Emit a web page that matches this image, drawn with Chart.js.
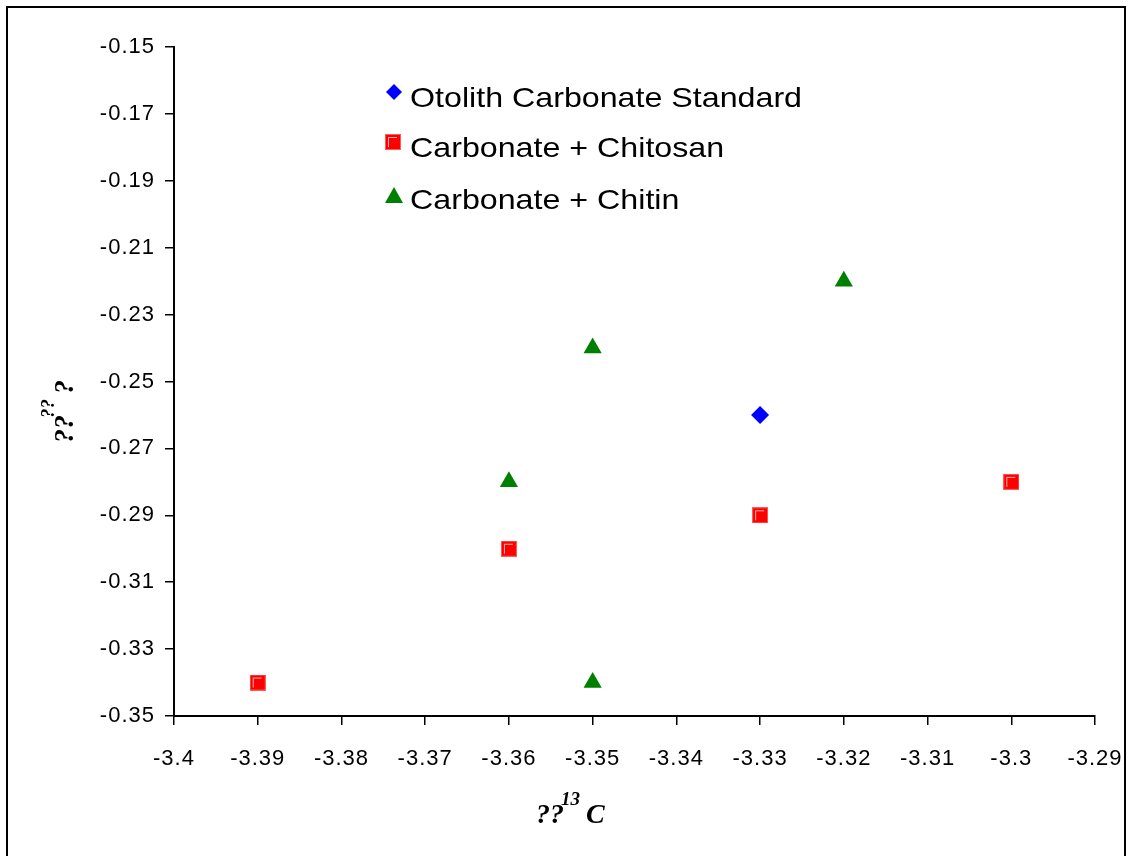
<!DOCTYPE html>
<html>
<head>
<meta charset="utf-8">
<script src="https://cdn.jsdelivr.net/npm/chart.js@4/dist/chart.umd.min.js"></script>
<style>
html,body{margin:0;padding:0;background:#fff;}
canvas{display:block;}
</style>
</head>
<body>
<canvas id="c" width="1128" height="856"></canvas>
<script>
// ---- data ----
const seriesNames = ['Otolith Carbonate Standard', 'Carbonate + Chitosan', 'Carbonate + Chitin'];
const otolithX = [-3.33];
const otolithY = [-0.26];
const chitosanX = [-3.39, -3.36, -3.33, -3.30];
const chitosanY = [-0.34, -0.30, -0.29, -0.28];
const chitinX = [-3.36, -3.35, -3.35, -3.32];
const chitinY = [-0.28, -0.24, -0.34, -0.22];
const xTickValues = [-3.4, -3.39, -3.38, -3.37, -3.36, -3.35, -3.34, -3.33, -3.32, -3.31, -3.3, -3.29];
const xTickLabels = ['-3.4', '-3.39', '-3.38', '-3.37', '-3.36', '-3.35', '-3.34', '-3.33', '-3.32', '-3.31', '-3.3', '-3.29'];
const yTickValues = [-0.35, -0.33, -0.31, -0.29, -0.27, -0.25, -0.23, -0.21, -0.19, -0.17, -0.15];
const yTickLabels = ['-0.35', '-0.33', '-0.31', '-0.29', '-0.27', '-0.25', '-0.23', '-0.21', '-0.19', '-0.17', '-0.15'];
const xTitle = ['??', '13', 'C'];
const yTitle = ['??', '??', '?'];

const pts = (xs, ys) => xs.map((x, i) => ({x: x, y: ys[i]}));

// custom square marker with highlight
function makeSquare(size) {
  const c = document.createElement('canvas');
  c.width = size; c.height = size;
  const g = c.getContext('2d');
  g.fillStyle = '#ff5a5a';
  g.fillRect(0, 0, size, size);
  g.fillStyle = '#ff0000';
  g.fillRect(1, 1, size - 2, size - 2);
  g.fillStyle = '#ffb0b0';
  g.fillRect(3, 3, 1, size - 6);
  g.fillRect(3, 3, size - 7, 1);
  return c;
}
const squareImg = makeSquare(16);

const FONT = "'Liberation Sans', Arial, sans-serif";
const SERIF = "'Liberation Serif', 'Times New Roman', serif";

const spacing = {
  id: 'spacing',
  beforeUpdate(chart) { chart.ctx.letterSpacing = '1px'; },
  beforeLayout(chart) { chart.ctx.letterSpacing = '1px'; },
  beforeDraw(chart) { chart.ctx.letterSpacing = '1px'; }
};

const decor = {
  id: 'decor',
  afterDraw(chart) {
    const ctx = chart.ctx;
    ctx.save();
    ctx.letterSpacing = '0px';
    // outer border
    ctx.strokeStyle = '#000';
    ctx.lineWidth = 2;
    ctx.strokeRect(7, 7, 1118, 860);

    // legend
    const lx = 394, ty = [99, 149, 201];
    ctx.fillStyle = '#000';
    ctx.font = '28px ' + FONT;
    ctx.textBaseline = 'middle';
    seriesNames.forEach((n, i) => {
      ctx.save();
      ctx.translate(410, ty[i]);
      ctx.scale(1.15, 1);
      ctx.fillStyle = '#000';
      ctx.fillText(n, 0, 0);
      ctx.restore();
    });
    // markers
    const ds = chart.data.datasets;
    ctx.fillStyle = ds[0].backgroundColor;
    ctx.beginPath();
    ctx.moveTo(lx, 92 - 8); ctx.lineTo(lx + 8, 92); ctx.lineTo(lx, 92 + 8); ctx.lineTo(lx - 8, 92); ctx.closePath();
    ctx.fill();
    ctx.drawImage(squareImg, lx - 9, 142 - 8, 16, 16);
    ctx.fillStyle = ds[2].backgroundColor;
    ctx.beginPath();
    ctx.moveTo(lx, 187); ctx.lineTo(lx + 9, 203); ctx.lineTo(lx - 9, 203); ctx.closePath();
    ctx.fill();

    // x title
    ctx.fillStyle = '#000';
    ctx.textBaseline = 'alphabetic';
    ctx.textAlign = 'left';
    ctx.font = 'italic bold 28px ' + SERIF;
    ctx.fillText(xTitle[0], 536, 823);
    ctx.font = 'italic bold 19px ' + SERIF;
    ctx.fillText(xTitle[1], 561, 805);
    ctx.font = 'italic bold 28px ' + SERIF;
    ctx.fillText(xTitle[2], 586, 823);

    // y title (rotated)
    ctx.save();
    ctx.translate(73, 443);
    ctx.rotate(-Math.PI / 2);
    ctx.font = 'italic bold 28px ' + SERIF;
    ctx.fillText(yTitle[0], 0, 0);
    ctx.font = 'italic bold 19px ' + SERIF;
    ctx.fillText(yTitle[1], 25, -19);
    ctx.font = 'italic bold 28px ' + SERIF;
    ctx.fillText(yTitle[2], 49, 0);
    ctx.restore();
    ctx.restore();
  }
};

new Chart(document.getElementById('c'), {
  type: 'scatter',
  data: {
    datasets: [
      {label: seriesNames[0], data: pts(otolithX, otolithY), pointStyle: 'rectRot', radius: 9, backgroundColor: '#0000ff', borderColor: '#0000ff', borderWidth: 0},
      {label: seriesNames[1], data: pts(chitosanX, chitosanY), pointStyle: squareImg, radius: 8, backgroundColor: '#ff0000', borderColor: '#ff0000', borderWidth: 0},
      {label: seriesNames[2], data: pts(chitinX, chitinY), pointStyle: 'triangle', radius: 10.5, backgroundColor: '#008000', borderColor: '#008000', borderWidth: 0}
    ]
  },
  options: {
    responsive: false,
    animation: false,
    devicePixelRatio: 1,
    layout: {padding: {top: 47, right: 33, left: 0, bottom: 0}},
    plugins: {legend: {display: false}, tooltip: {enabled: false}},
    scales: {
      x: {
        type: 'linear', min: -3.4, max: -3.29,
        afterBuildTicks: s => { s.ticks = xTickValues.map(v => ({value: v})); },
        afterFit: s => { s.height = 140; s.paddingRight = 0; s.paddingLeft = 0; },
        ticks: {
          autoSkip: false, maxRotation: 0, padding: 21, color: '#000',
          font: {family: FONT, size: 22},
          callback: (v, i) => xTickLabels[i]
        },
        grid: {drawOnChartArea: false, drawTicks: true, tickLength: 9, color: '#000', lineWidth: 1.5},
        border: {display: true, color: '#000', width: 2}
      },
      y: {
        type: 'linear', min: -0.35, max: -0.15,
        afterBuildTicks: s => { s.ticks = yTickValues.map(v => ({value: v})); },
        afterFit: s => { s.width = 174; s.paddingTop = 0; s.paddingBottom = 0; },
        ticks: {
          autoSkip: false, padding: 10, color: '#000',
          font: {family: FONT, size: 22},
          callback: (v, i) => yTickLabels[i]
        },
        grid: {drawOnChartArea: false, drawTicks: true, tickLength: 9, color: '#000', lineWidth: 1.5},
        border: {display: true, color: '#000', width: 2}
      }
    }
  },
  plugins: [spacing, decor]
});
</script>
</body>
</html>
